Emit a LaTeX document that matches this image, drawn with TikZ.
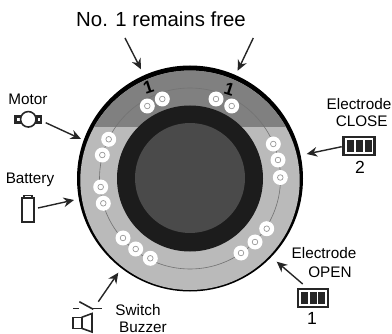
\documentclass[tikz,border=0pt]{standalone}
\usepackage{fontspec}
\setmainfont{Liberation Sans}
\usetikzlibrary{arrows.meta}
\definecolor{ringdark}{gray}{0.5}
\definecolor{ringlight}{gray}{0.73}
\definecolor{hubblack}{gray}{0.11}
\definecolor{hubgrey}{gray}{0.29}
\tikzset{
  lbl/.style={inner sep=0pt, font=\fontsize{8.7}{10}\selectfont},
  num/.style={inner sep=0pt, font=\fontsize{10}{11}\selectfont},
  pointer/.style={-{Stealth[length=6pt,width=5.5pt]}, line width=0.8pt, draw=black!85},
  icon/.style={draw=black!85, line width=0.9pt},
  elecbox/.style={draw=black!85, line width=1.2pt, fill=white, rectangle, inner sep=0pt, minimum width=0.6cm, minimum height=0.36cm},
}
\begin{document}
\begin{tikzpicture}[x=0.02cm,y=-0.02cm]
\useasboundingbox (0,0) rectangle (392,334);

% Disc
\fill[black] (190,178.5) circle (113);
\fill[ringlight] (190,180.3) circle (109.7);
\begin{scope}
\clip (0,0) rectangle (392,127);
\fill[ringdark] (190,180.3) circle (109.7);
\end{scope}
\draw[black!55, line width=0.35pt] (190,178.5) circle (90.5);
\fill[hubblack] (190,178.5) circle (73);
\fill[hubgrey] (190,178) circle (55);

% Bolts
\foreach \px/\py in {147.3/106, 162.3/99, 216/99, 231.7/106,
  108.7/139.3, 102.3/155, 100.7/187, 103.3/203.3,
  123/238, 135.7/249, 150.3/258.3,
  241/253, 255/242, 266.7/228.7,
  273.3/144, 278/160, 280.3/177.5} {
  \fill[white] (\px,\py) circle (7.5);
  \draw[black!40, line width=0.4pt] (\px,\py) circle (2.8);
}

% Ones on the disc
\node[num, font=\fontsize{10}{11}\selectfont\bfseries, rotate=18] (oneleft) at (148.3,87.3) {1};
\node[num, font=\fontsize{10}{11}\selectfont\bfseries, rotate=-18] (oneright) at (229.3,89.3) {1};

% Labels
\node[inner sep=0pt, font=\fontsize{11.6}{13}\selectfont] (free) at (161,19) {No. 1 remains free};
\node[lbl] (motortxt) at (28,99) {Motor};
\node[lbl] (batterytxt) at (30,180) {Battery};
\node[lbl] (closetxt) at (359,104) {Electrode};
\node[lbl] (closetxtb) at (361.7,121) {CLOSE};
\node[num] (closenum) at (360,167) {2};
\node[lbl] (opentxt) at (324,253) {Electrode};
\node[lbl] (opentxtb) at (330,272) {OPEN};
\node[num] (opennum) at (312,318) {1};
\node[lbl] (switchtxt) at (138,310.5) {Switch};
\node[lbl] (buzzertxt) at (143,327) {Buzzer};

% Motor
\fill[black!85] (14,115.5) rectangle (22,124);
\fill[black!85] (35,115.5) rectangle (42,124);
\fill[white] (16.5,118) rectangle (19.5,121.5);
\fill[white] (37.5,118) rectangle (40,121.5);
\node[icon, circle, fill=white, inner sep=0pt, minimum size=0.31cm] (motor) at (28.3,119.3) {};

% Battery
\node[icon, rectangle, inner sep=0pt, minimum width=0.24cm, minimum height=0.48cm] (battery) at (28,210) {};
\draw[icon] (24,198) -- (24,195.5) -- (32,195.5) -- (32,198);

% Electrodes
\node[elecbox, minimum width=0.62cm] (close) at (359,146) {};
\foreach \cx in {350,359,368} {\fill[black!85] (\cx-3.5,140) rectangle (\cx+3.5,152);}
\node[elecbox] (open) at (313,298) {};
\foreach \cx in {304.5,313,321.5} {\fill[black!85] (\cx-3.5,292) rectangle (\cx+3.5,304);}

% Switch and buzzer
\draw[icon] (73.3,308.3) -- (79.3,308.3);
\draw[icon] (79.3,301.7) -- (93.3,309.3);
\draw[icon] (92.7,308.3) -- (102.3,308.3);
\node[icon, rectangle, inner sep=0pt, minimum width=0.17cm, minimum height=0.22cm] (buzzer) at (77.5,322.8) {};
\draw[icon] (81.7,317.3) -- (92,313.5) -- (92,332) -- (81.7,328.3);

% Arrow ends
\coordinate (freeleft) at (125,38);
\coordinate (freeright) at (253.3,38);
\coordinate (rimleft) at (141,69.3);
\coordinate (rimright) at (237.7,70.7);
\coordinate (rimmotor) at (81,139);
\coordinate (rimbattery) at (74,200);
\coordinate (rimclose) at (306.7,154);
\coordinate (rimopen) at (276.7,261.7);
\coordinate (rimswitch) at (118.3,272.7);
\coordinate (switchtail) at (98.3,301.7);
\coordinate (motortail) at (45.7,122.7);
\coordinate (batterytail) at (38,208);
\coordinate (closetail) at (341.7,146.7);
\coordinate (opentail) at (302.7,284);

% Arrows
\draw[pointer] (freeleft) -- (rimleft);
\draw[pointer] (freeright) -- (rimright);
\draw[pointer] (motortail) -- (rimmotor);
\draw[pointer] (batterytail) -- (rimbattery);
\draw[pointer] (closetail) -- (rimclose);
\draw[pointer] (opentail) -- (rimopen);
\draw[pointer] (switchtail) -- (rimswitch);
\end{tikzpicture}
\end{document}
